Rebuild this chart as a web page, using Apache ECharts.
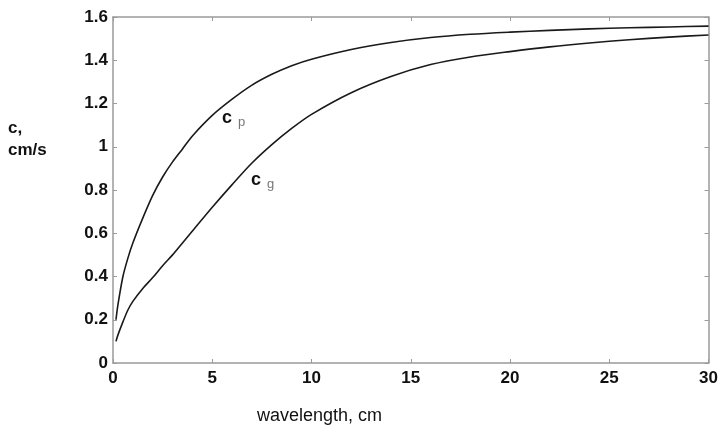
<!DOCTYPE html>
<html>
<head>
<meta charset="utf-8">
<script src="https://cdn.jsdelivr.net/npm/echarts@6/dist/echarts.min.js"></script>
<style>html,body{margin:0;padding:0;background:#fff;}#c{width:721px;height:432px;}</style>
</head>
<body>
<div id="c"></div>
<script>
var wavelength = [0.15, 0.25, 0.5, 0.75, 1, 1.5, 2, 2.5, 3, 3.5, 4, 5, 6, 7, 8, 9, 10, 12, 14, 16, 18, 20, 22, 24, 26, 28, 30];
var phaseSpeed = [0.20, 0.27, 0.40, 0.485, 0.555, 0.67, 0.775, 0.86, 0.93, 0.99, 1.05, 1.145, 1.22, 1.285, 1.335, 1.375, 1.405, 1.45, 1.482, 1.505, 1.52, 1.53, 1.538, 1.545, 1.55, 1.554, 1.558];
var groupSpeed = [0.10, 0.13, 0.19, 0.245, 0.285, 0.345, 0.395, 0.45, 0.50, 0.555, 0.61, 0.72, 0.825, 0.925, 1.01, 1.085, 1.15, 1.25, 1.325, 1.38, 1.415, 1.44, 1.462, 1.48, 1.495, 1.507, 1.517];
var xTicks = {min: 0, max: 30, interval: 5};
var yTicks = {min: 0, max: 1.6, interval: 0.2};

function pairs(xs, ys) { return xs.map(function (x, i) { return [x, ys[i]]; }); }

var chart = echarts.init(document.getElementById('c'), null, {renderer: 'canvas'});
var font = '"Liberation Sans", Arial, sans-serif';
var axisLine = {show: true, onZero: false, lineStyle: {color: '#9a9a9a', width: 1.5}};
var axisTick = {show: true, inside: true, length: 4, lineStyle: {color: '#9a9a9a'}};
chart.setOption({
  animation: false,
  backgroundColor: '#fff',
  grid: {left: 113, right: 9, top: 17, bottom: 69},
  xAxis: [{
    type: 'value', min: xTicks.min, max: xTicks.max, interval: xTicks.interval,
    axisLine: axisLine, axisTick: axisTick, splitLine: {show: false},
    axisLabel: {color: '#111', fontFamily: font, fontSize: 17, fontWeight: 'bold', margin: 7}
  }, {
    type: 'value', position: 'top', min: xTicks.min, max: xTicks.max, interval: xTicks.interval,
    axisLine: axisLine, axisTick: axisTick, axisLabel: {show: false}, splitLine: {show: false}
  }],
  yAxis: [{
    type: 'value', min: yTicks.min, max: yTicks.max, interval: yTicks.interval,
    axisLine: axisLine, axisTick: axisTick, splitLine: {show: false},
    axisLabel: {color: '#111', fontFamily: font, fontSize: 17, fontWeight: 'bold', margin: 5}
  }, {
    type: 'value', position: 'right', min: yTicks.min, max: yTicks.max, interval: yTicks.interval,
    axisLine: axisLine, axisTick: axisTick, axisLabel: {show: false}, splitLine: {show: false}
  }],
  series: [{
    type: 'line', data: pairs(wavelength, phaseSpeed), smooth: 0.3, symbol: 'none',
    lineStyle: {color: '#1a1a1a', width: 1.6}
  }, {
    type: 'line', data: pairs(wavelength, groupSpeed), smooth: 0.3, symbol: 'none',
    lineStyle: {color: '#1a1a1a', width: 1.6}
  }],
  graphic: [{
    type: 'text', left: 8, top: 117,
    style: {text: 'c,\ncm/s', fill: '#111', font: 'bold 17px ' + font, lineHeight: 22}
  }, {
    type: 'text', left: 257, top: 407,
    style: {text: 'wavelength, cm', fill: '#111', font: '18px ' + font}
  }, {
    type: 'text', left: 222, top: 109,
    style: {text: '{c|c}{s|p}', rich: {
      c: {fill: '#111', font: 'bold 18px ' + font},
      s: {fill: '#777', font: '13px ' + font, padding: [8, 0, 0, 6]}
    }}
  }, {
    type: 'text', left: 251, top: 171,
    style: {text: '{c|c}{s|g}', rich: {
      c: {fill: '#111', font: 'bold 18px ' + font},
      s: {fill: '#777', font: '13px ' + font, padding: [8, 0, 0, 6]}
    }}
  }]
});
</script>
</body>
</html>
